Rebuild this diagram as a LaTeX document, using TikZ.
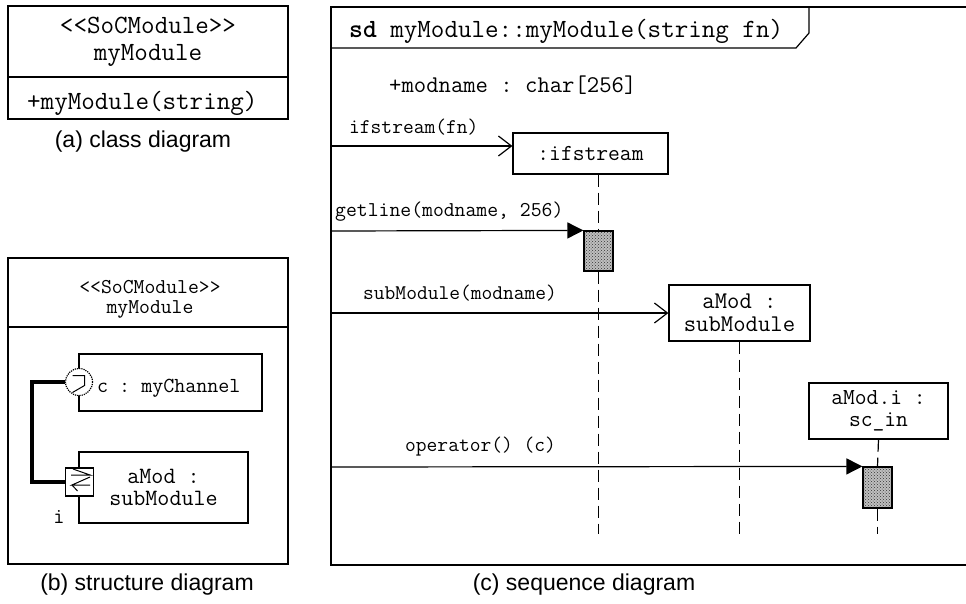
\documentclass[tikz,border=0pt]{standalone}
\usepackage{fontspec}
\setmainfont{Liberation Sans}
\usetikzlibrary{arrows.meta,patterns,positioning}

\tikzset{
	umlbox/.style={draw, line width=1.2pt, fill=white, inner sep=0pt, align=center},
	actbox/.style={draw, line width=1.2pt, inner sep=0pt, minimum width=29pt, preaction={fill=black!25}, pattern=crosshatch dots, pattern color=black!80},
	lifeline/.style={line width=1.2pt, dash pattern=on 12pt off 6pt},
	syncmsg/.style={line width=1.2pt, -{Triangle[length=16pt,width=16pt]}},
	createmsg/.style={line width=1.2pt, -{Straight Barb[length=13pt,width=20pt]}},
	wire/.style={line width=4.5pt},
	caption/.style={font=\fontsize{23}{26}\selectfont},
}
\newcommand{\mono}[1]{\ttfamily\frenchspacing\fontsize{#1}{#1}\selectfont}

\begin{document}
\begin{tikzpicture}[x=1pt, y=-1pt]
	\useasboundingbox (0,0) rectangle (966,603);

	\draw[line width=1.2pt] (8,6) rectangle (288,119);
	\draw[line width=1.2pt] (8,77) -- (288,77);
	\node[font=\mono{26.3}, align=center, inner sep=0pt] (clsname) at (148,41.5) {<<SoCModule>>\\[1pt]myModule};
	\node[font=\mono{26.3}, anchor=west, inner sep=0pt] (clsop) at (27,103) {+myModule(string)};
	\node[caption] (capa) at (143,142) {(a) class diagram};

	\draw[line width=1.2pt] (8,258) rectangle (288,564);
	\draw[line width=1.2pt] (8,327) -- (288,327);
	\node[font=\mono{21.1}, align=center, inner sep=0pt] (strname) at (150,299) {<<SoCModule>>\\[-1pt]myModule};
	\node[umlbox, minimum width=183pt, minimum height=57pt] (chan) at (170.5,382.5) {};
	\node[font=\mono{21.4}, anchor=west, inner sep=0pt] (chanlbl) at (97,388) {c : myChannel};
	\node[umlbox, minimum width=169pt, minimum height=71pt, font=\mono{23.4}] (amod) at (163.5,487.5) {aMod :\\[-1pt]subModule};
	\node[umlbox, circle, densely dotted, minimum size=27pt] (pc) at (79,382) {};
	\draw[line width=1pt, shift={(pc)}] (-6.5,-6.5) -- (5.5,-6.5) -- (5.5,3.5) -- (-6.5,10.5);
	\node[umlbox, minimum size=28pt] (ps) at (79.5,482) {};
	\draw[line width=1pt, shift={(ps)}] (-6.5,-13) -- (10.5,-7) -- (-8.5,-7);
	\draw[line width=1pt, shift={(ps)}] (10.5,-5) -- (-7.5,3) -- (10.5,3);
	\draw[line width=1pt, shift={(ps)}] (-7.5,3) -- (-2,9);
	\node[font=\mono{21.7}, inner sep=0pt] (plbl) at (59,517) {i};
	\coordinate (bend) at (32,0);
	\draw[wire] (pc.west) -| (bend |- ps.west) -- (ps.west);
	\node[caption] (capb) at (147,585) {(b) structure diagram};

	\draw[line width=1.2pt] (966,7) -- (331,7) -- (331,565) -- (966,565);
	\draw[line width=1.2pt] (331,48) -- (796,48) -- (809,33) -- (809,7);
	\node[font=\mono{26.3}, anchor=west, inner sep=0pt] (title) at (349,31) {\textbf{sd} myModule::myModule(string fn)};
	\node[font=\mono{24}, anchor=west, inner sep=0pt] (attr) at (389,85) {+modname : char[256]};

	\node[umlbox, minimum width=155pt, minimum height=41pt, font=\mono{22.9}] (ifs) at (590.5,153.5) {:ifstream};
	\node[umlbox, minimum width=141pt, minimum height=56pt, font=\mono{24}] (amod2) at (739.5,313) {aMod :\\[-1pt]subModule};
	\node[umlbox, minimum width=139pt, minimum height=56pt, font=\mono{22.9}] (amodi) at (878.5,411) {aMod.i :\\[-1pt]sc\_in};
	\node[actbox, minimum height=40pt] (act1) at (598.5,251) {};
	\node[actbox, minimum height=41pt] (act2) at (877.5,487.5) {};

	\coordinate (lend) at (0,534);
	\draw[lifeline] (ifs.south -| act1) -- (act1.north);
	\draw[lifeline] (act1.south) -- (act1 |- lend);
	\draw[lifeline] (amod2.south) -- (amod2.south |- lend);
	\draw[lifeline] (amodi.south) -- (act2.north);
	\draw[lifeline] (act2.south) -- (act2 |- lend);
	\node[actbox, minimum height=40pt] at (act1) {};
	\node[actbox, minimum height=41pt] at (act2) {};

	\coordinate (m1) at (331,146);
	\coordinate (m2) at (331,231);
	\coordinate (m3) at (331,313);
	\coordinate (m4) at (331,467);
	\draw[createmsg] (m1) -- (m1 -| ifs.west);
	\draw[syncmsg] (m2) -- (act1.north west);
	\draw[createmsg] (m3) -- (amod2.west);
	\draw[syncmsg] (m4) -- (act2.north west);
	\node[font=\mono{20.9}, anchor=west, inner sep=0pt] (msg1) at (349,127) {ifstream(fn)};
	\node[font=\mono{21.1}, anchor=west, inner sep=0pt] (msg2) at (335,212) {getline(modname, 256)};
	\node[font=\mono{20.9}, anchor=west, inner sep=0pt] (msg3) at (363,293) {subModule(modname)};
	\node[font=\mono{20.9}, anchor=west, inner sep=0pt] (msg4) at (405,447) {operator() (c)};
	\node[caption] (capc) at (584,585) {(c) sequence diagram};
\end{tikzpicture}
\end{document}
